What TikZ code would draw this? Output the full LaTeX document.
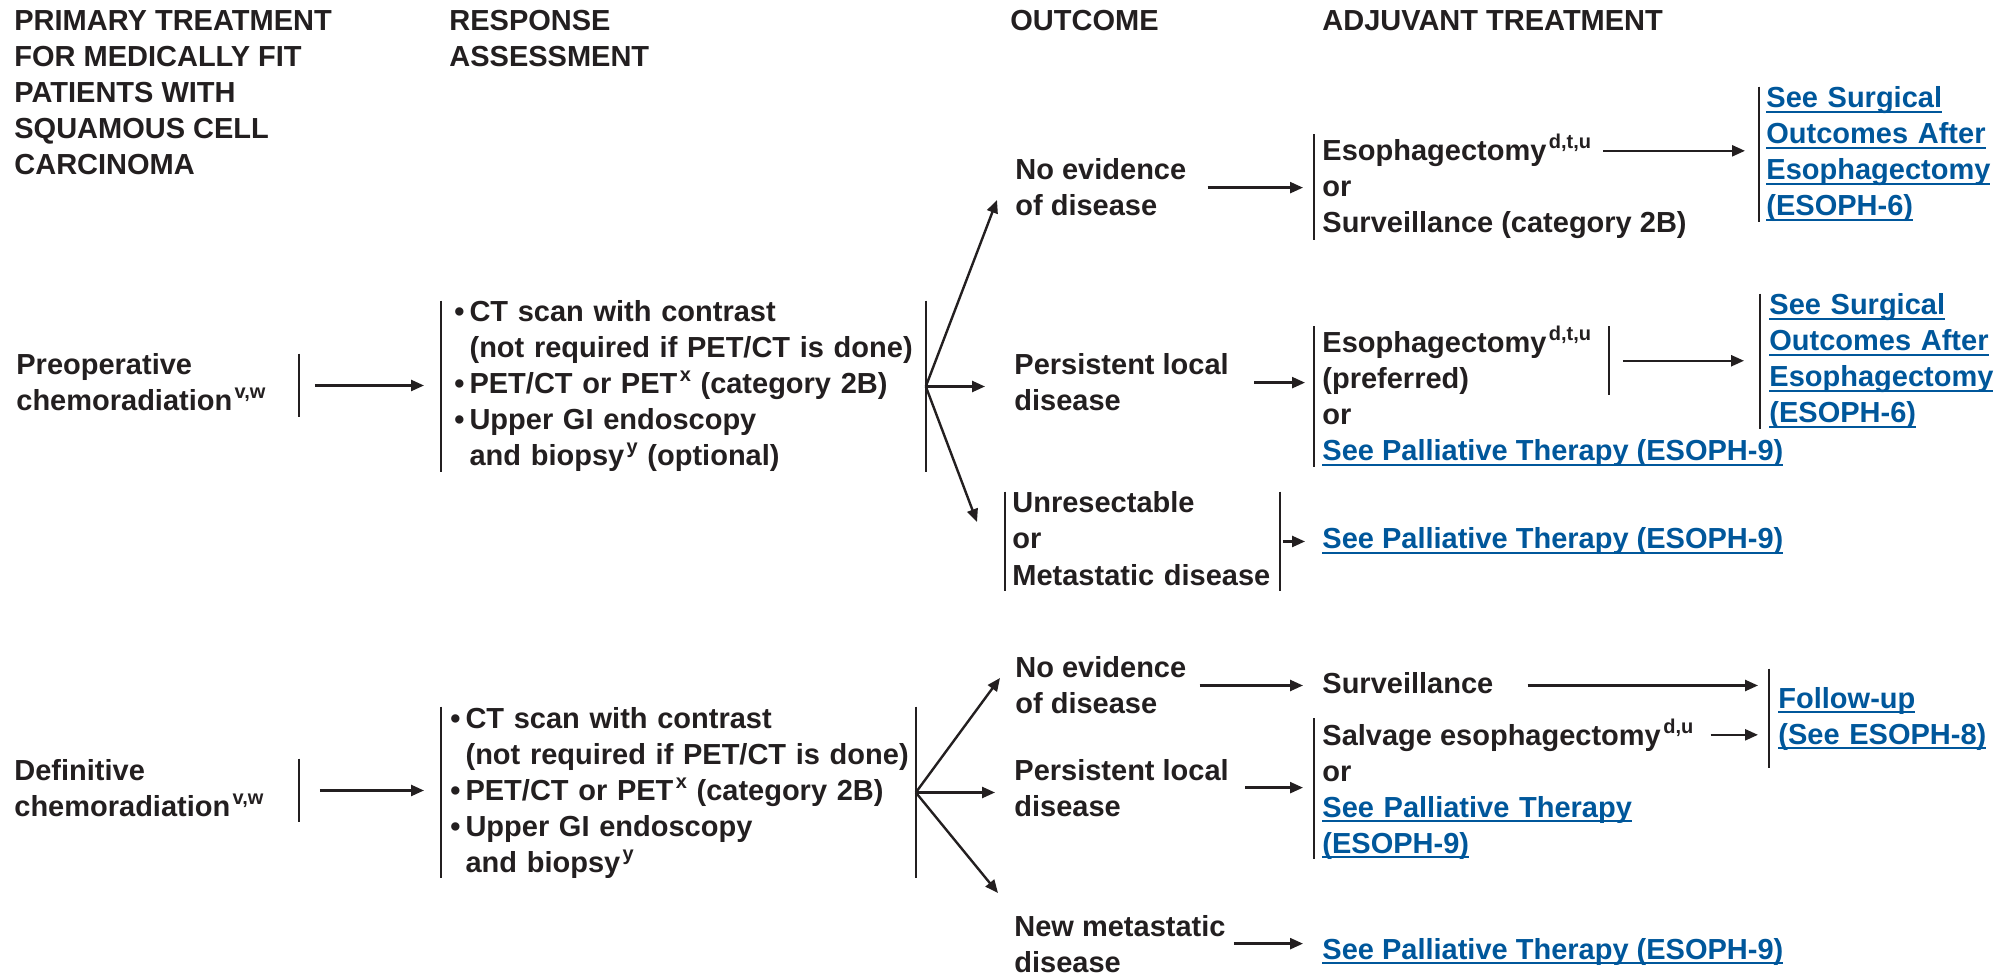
\documentclass[tikz,border=0pt]{standalone}
\usepackage{fontspec}
\setmainfont{Liberation Sans}
\usepackage{xcolor}
\usepackage{tikz}
\usetikzlibrary{arrows.meta,positioning}

\definecolor{ink}{RGB}{35,31,32}
\definecolor{linkblue}{RGB}{0,87,155}
\newsavebox{\lnkbox}
\newcommand{\lnk}[1]{\textcolor{linkblue}{\sbox{\lnkbox}{#1}\rlap{\rule[-2.6pt]{\wd\lnkbox}{1pt}}\usebox{\lnkbox}}}
\newcommand{\sups}[1]{\kern1.2pt\raisebox{6pt}{\fontsize{10pt}{10pt}\selectfont #1}}
\newcommand{\lstrut}{\rule[-3pt]{0pt}{13.5pt}}
\newcommand{\blt}{\textbullet\hspace{2.5pt}}
\newcommand{\ind}{\hspace*{7.6pt}}

\begin{document}
\begin{tikzpicture}[x=0.5pt, y=-0.5pt, >={Triangle[length=6.5pt,width=5.5pt]},
  every node/.style={font=\fontsize{14.5pt}{18pt}\selectfont\bfseries, text=ink}]
\tikzstyle{txt}=[inner sep=0pt, anchor=base west]
\tikzstyle{multi}=[txt, align=left]
\tikzstyle{lined}=[txt, execute at begin node=\lstrut, execute at end node=\lstrut]
\tikzstyle{col4}=[lined, inner xsep=4pt]
\tikzstyle{brk}=[draw=ink, line width=1pt]
\tikzstyle{arr}=[->, draw=ink, line width=1.2pt]
\useasboundingbox (0,0) rectangle (2005,977);

\node[multi] (hdr1) at (14,175) {PRIMARY TREATMENT\\FOR MEDICALLY FIT\\PATIENTS WITH\\SQUAMOUS CELL\\CARCINOMA};
\node[multi] (hdr2) at (449,67) {RESPONSE\\ASSESSMENT};
\node[txt] (hdr3) at (1010,31) {OUTCOME};
\node[txt] (hdr4) at (1322,31) {ADJUVANT TREATMENT};

\node[lined, text width=141pt, align=left] (pre) at (16,375) {Preoperative\\chemoradiation\sups{v,w}};
\node[lined, text width=242pt, align=left, execute at begin node={\leftskip=6.5pt\lstrut}] (ass1) at (441,322) {\blt CT scan with contrast\\\ind(not required if PET/CT is done)\\\blt PET/CT or PET\sups{x} (category 2B)\\\blt Upper GI endoscopy\\\ind and biopsy\sups{y} (optional)};
\node[multi] (ned1) at (1015,216) {No evidence\\of disease};
\node[col4] (esu1a) at (1314,161) {Esophagectomy\sups{d,t,u}};
\node[col4] (esu1b) at ([yshift=-18pt]esu1a.base west) {or};
\node[col4] (esu1c) at ([yshift=-18pt]esu1b.base west) {Surveillance (category 2B)};
\node[lined, text width=125pt, align=left, inner xsep=3.5pt] (lnk1) at (1759,108) {\lnk{See Surgical}\\\lnk{Outcomes After}\\\lnk{Esophagectomy}\\\lnk{(ESOPH-6)}};
\node[multi] (pld1) at (1014,411) {Persistent local\\disease};
\node[col4, text width=139pt, align=left] (esp1a) at (1314,353) {Esophagectomy\sups{d,t,u}\\(preferred)};
\node[col4] (esp1b) at ([yshift=-36pt]esp1a.base west) {or};
\node[col4] (esp1c) at ([yshift=-18pt]esp1b.base west) {\lnk{See Palliative Therapy (ESOPH-9)}};
\node[lined, text width=128pt, align=left, inner xsep=4.5pt] (lnk2) at (1760,315) {\lnk{See Surgical}\\\lnk{Outcomes After}\\\lnk{Esophagectomy}\\\lnk{(ESOPH-6)}};
\node[lined, text width=130pt, align=left, inner xsep=3.5pt] (unr) at (1005,513) {Unresectable\\or\\Metastatic disease};
\node[col4] (pal1) at (1314,549) {\lnk{See Palliative Therapy (ESOPH-9)}};

\node[lined, text width=142pt, align=left] (dfn) at (14,780) {Definitive\\chemoradiation\sups{v,w}};
\node[lined, text width=237pt, align=left, execute at begin node={\leftskip=4.5pt\lstrut}] (ass2) at (441,728) {\blt CT scan with contrast\\\ind(not required if PET/CT is done)\\\blt PET/CT or PET\sups{x} (category 2B)\\\blt Upper GI endoscopy\\\ind and biopsy\sups{y}};
\node[multi] (ned2) at (1015,713) {No evidence\\of disease};
\node[col4] (srv) at (1314,693) {Surveillance};
\node[lined, text width=110pt, align=left, inner xsep=4.5pt, inner ysep=9pt] (fup) at (1769,708) {\lnk{Follow-up}\\\lnk{(See ESOPH-8)}};
\node[multi] (pld2) at (1014,816) {Persistent local\\disease};
\node[col4] (slva) at (1314,745) {Salvage esophagectomy\sups{d,u}};
\node[col4] (slvb) at ([yshift=-18pt]slva.base west) {or};
\node[col4, text width=160pt, align=left] (slvc) at ([yshift=-18pt]slvb.base west) {\lnk{See Palliative Therapy}\\\lnk{(ESOPH-9)}};
\node[multi] (nmd) at (1014,972) {New metastatic\\disease};
\node[col4] (pal3) at (1314,959) {\lnk{See Palliative Therapy (ESOPH-9)}};

\draw[brk] (pre.north east) -- (pre.south east);
\draw[brk] (ass1.north west) -- (ass1.south west) (ass1.north east) -- (ass1.south east);
\draw[brk] (esu1a.north west) -- (esu1a.west |- esu1c.south);
\draw[brk] (lnk1.north west) -- (lnk1.south west);
\draw[brk] (esp1a.north west) -- (esp1a.west |- esp1c.south) (esp1a.north east) -- (esp1a.south east);
\draw[brk] (lnk2.north west) -- (lnk2.south west);
\draw[brk] (unr.north west) -- (unr.south west) (unr.north east) -- (unr.south east);
\draw[brk] (dfn.north east) -- (dfn.south east);
\draw[brk] (ass2.north west) -- (ass2.south west) (ass2.north east) -- (ass2.south east);
\draw[brk] (fup.north west) -- (fup.south west);
\draw[brk] (slva.north west) -- (slva.west |- slvc.south);

\draw[arr, shorten <=8pt, shorten >=8.5pt] (pre.east) -- (pre.east -| ass1.west);
\draw[arr] (ass1.east) -- ([xshift=-9pt,yshift=8pt]ned1.base west);
\draw[arr, shorten >=14.5pt] (ass1.east) -- (ass1.east -| pld1.west);
\draw[arr] (ass1.east) -- ([xshift=-14pt,yshift=-4.5pt]unr.base west);
\draw[arr, shorten <=10.5pt, shorten >=5.5pt] (ned1.east) -- (ned1.east -| esu1b.west);
\draw[arr, shorten <=2pt, shorten >=7pt] (esu1a.east) -- (esu1a.east -| lnk1.west);
\draw[arr, shorten <=12.5pt, shorten >=4.5pt] (pld1.east) -- (pld1.east -| esp1a.west);
\draw[arr, shorten <=7pt, shorten >=8pt] (esp1a.east) -- (esp1a.east -| lnk2.west);
\draw[arr, shorten <=1.5pt, shorten >=4.5pt] (unr.east) -- (unr.east -| pal1.west);

\draw[arr, shorten <=10.5pt, shorten >=8.5pt] (dfn.east) -- (dfn.east -| ass2.west);
\draw[arr] (ass2.east) -- ([xshift=-7.5pt,yshift=17.5pt]ned2.base west);
\draw[arr, shorten >=9.5pt] (ass2.east) -- (ass2.east -| pld2.west);
\draw[arr] (ass2.east) -- ([xshift=-8pt,yshift=39.5pt]nmd.base west);
\draw[arr, shorten <=6.5pt, shorten >=5.5pt] (srv.west -| ned2.east) -- (srv.west);
\draw[arr, shorten <=13pt, shorten >=5.5pt] (srv.east) -- (srv.east -| fup.west);
\draw[arr, shorten <=8pt, shorten >=5.5pt] (pld2.east) -- (pld2.east -| slvb.west);
\draw[arr, shorten <=4.5pt, shorten >=5.5pt] (slva.east) -- (slva.east -| fup.west);
\draw[arr, shorten <=4pt, shorten >=5.5pt] (nmd.east) -- (nmd.east -| pal3.west);
\end{tikzpicture}
\end{document}
